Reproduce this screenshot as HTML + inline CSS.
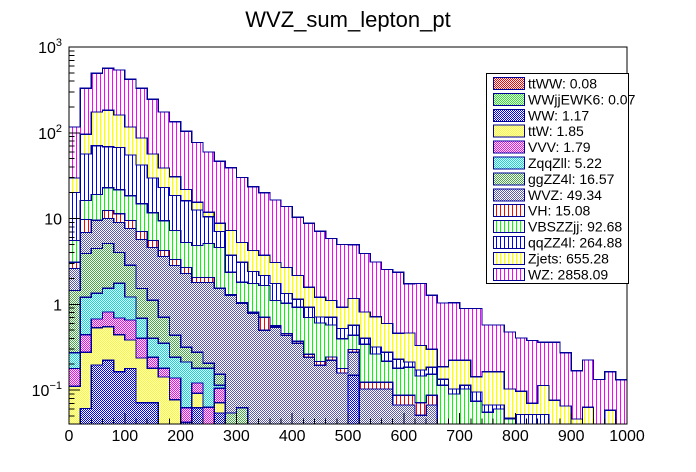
<!DOCTYPE html>
<html><head><meta charset="utf-8"><style>
html,body{margin:0;padding:0;background:#fff;}
svg{display:block;font-family:"Liberation Sans",Arial,sans-serif;}
</style></head><body>
<svg id="chart" width="696" height="472" viewBox="0 0 696 472">
<defs>
<pattern id="vh-magenta" width="4" height="4" patternUnits="userSpaceOnUse"><rect width="4" height="4" fill="#fff"/><rect width="1" height="4" fill="#ff00ff"/></pattern>
<pattern id="vh-yellow" width="4" height="4" patternUnits="userSpaceOnUse"><rect width="4" height="4" fill="#fff"/><rect width="1.3" height="4" fill="#ffff00"/></pattern>
<pattern id="vh-blue" width="4" height="4" patternUnits="userSpaceOnUse"><rect width="4" height="4" fill="#fff"/><rect width="1" height="4" fill="#0000ff"/></pattern>
<pattern id="vh-green" width="4" height="4" patternUnits="userSpaceOnUse"><rect width="4" height="4" fill="#fff"/><rect width="1" height="4" fill="#00ff00"/></pattern>
<pattern id="vh-red" width="4" height="4" patternUnits="userSpaceOnUse"><rect width="4" height="4" fill="#fff"/><rect width="1" height="4" fill="#ff0000"/></pattern>
<pattern id="ck-wvz" width="2" height="2" patternUnits="userSpaceOnUse"><rect width="2" height="2" fill="#fff"/><rect width="1" height="1" fill="#5a5ab4"/><rect x="1" y="1" width="1" height="1" fill="#5a5ab4"/></pattern>
<pattern id="ck-gg" width="2" height="2" patternUnits="userSpaceOnUse"><rect width="2" height="2" fill="#fff"/><rect width="1" height="1" fill="#44aa44"/><rect x="1" y="1" width="1" height="1" fill="#44aa44"/></pattern>
<pattern id="ck-cyan" width="2" height="2" patternUnits="userSpaceOnUse"><rect width="2" height="2" fill="#fff"/><rect width="1" height="1" fill="#00e0e0"/><rect x="1" y="1" width="1" height="1" fill="#00e0e0"/></pattern>
<pattern id="ck-magenta" width="2" height="2" patternUnits="userSpaceOnUse"><rect width="2" height="2" fill="#fff"/><rect width="1" height="1" fill="#ff00ff"/><rect x="1" y="1" width="1" height="1" fill="#ff00ff"/></pattern>
<pattern id="ck-yellow" width="2" height="2" patternUnits="userSpaceOnUse"><rect width="2" height="2" fill="#fff"/><rect width="1" height="1" fill="#ffff00"/><rect x="1" y="1" width="1" height="1" fill="#ffff00"/></pattern>
<pattern id="ck-blue" width="2" height="2" patternUnits="userSpaceOnUse"><rect width="2" height="2" fill="#fff"/><rect width="1" height="1" fill="#0000ff"/><rect x="1" y="1" width="1" height="1" fill="#0000ff"/></pattern>
<pattern id="ck-green" width="2" height="2" patternUnits="userSpaceOnUse"><rect width="2" height="2" fill="#fff"/><rect width="1" height="1" fill="#22ee22"/><rect x="1" y="1" width="1" height="1" fill="#22ee22"/></pattern>
<pattern id="ck-red" width="2" height="2" patternUnits="userSpaceOnUse"><rect width="2" height="2" fill="#fff"/><rect width="1" height="1" fill="#ff0000"/><rect x="1" y="1" width="1" height="1" fill="#ff0000"/></pattern>
</defs>
<text x="348" y="27" font-size="22" text-anchor="middle" fill="#000">WVZ_sum_lepton_pt</text>
<g id="stack"></g>
<g id="axes"></g>
<g id="legend"></g>
</svg>
<script>
const binEdgesMin = 0, binEdgesMax = 1000;
const xTickLabels = ["0","100","200","300","400","500","600","700","800","900","1000"];
const xTickValues = [0,100,200,300,400,500,600,700,800,900,1000];
const yDecades = [-1,0,1,2,3];
const seriesNames = ["ttWW","WWjjEWK6","WW","ttW","VVV","ZqqZll","ggZZ4l","WVZ","VH","VBSZZjj","qqZZ4l","Zjets","WZ"];
const legendTotals = ["0.08","0.07","1.17","1.85","1.79","5.22","16.57","49.34","15.08","92.68","264.88","655.28","2858.09"];
const ttWW = [0.003,0.003,0.003,0.003,0.003,0.003,0,0,0,0,0,0,0,0,0,0,0,0,0,0,0,0,0,0,0,0,0,0,0,0,0,0,0,0,0,0,0,0,0,0,0,0,0,0,0,0,0,0,0,0];
const WWjjEWK6 = [0,0.003,0.003,0.003,0.003,0,0,0,0,0,0,0,0,0,0,0,0,0,0,0,0,0,0,0,0,0,0,0,0,0,0,0,0,0,0,0,0,0,0,0,0,0,0,0,0,0,0,0,0,0];
const WW = [0,0.055,0.19,0.217,0.158,0.175,0.071,0.071,0,0,0.042,0.062,0,0.054,0,0,0,0,0,0,0,0,0,0,0,0.149,0,0,0,0,0,0,0,0,0,0,0,0,0,0,0,0,0,0,0,0,0,0,0,0];
const ttW = [0.108,0.214,0.336,0.323,0.278,0.206,0.165,0.109,0.142,0.077,0,0.03,0,0.017,0,0,0,0,0,0,0,0,0,0,0,0,0,0,0,0,0,0,0,0,0,0,0,0,0,0,0,0,0,0,0,0,0,0,0,0];
const VVV = [0.067,0.167,0.143,0.267,0.251,0.271,0.166,0.062,0.038,0.061,0.02,0.029,0.063,0.034,0,0,0,0,0,0,0,0,0,0,0,0,0,0,0,0,0,0,0,0,0,0,0,0,0,0,0,0,0,0,0,0,0,0,0,0];
const ZqqZll = [0.094,0.77,0.67,0.72,1.06,0.56,0.285,0.16,0.17,0.104,0.15,0.059,0.117,0.009,0,0,0,0,0,0,0,0,0,0,0,0,0,0,0,0,0,0,0,0,0,0,0,0,0,0,0,0,0,0,0,0,0,0,0,0];
const ggZZ4l = [1.18,2.71,3.14,3.59,2.27,1.63,0.84,0.71,0.354,0.194,0.104,0.097,0.026,0.039,0.054,0.062,0,0,0,0,0,0,0,0,0,0,0,0,0,0,0,0,0,0,0,0,0,0,0,0,0,0,0,0,0,0,0,0,0,0];
const WVZ = [1.17,2.95,5.0,4.88,4.96,4.81,4.17,3.49,2.9,2.4,1.97,1.52,1.59,1.38,1.22,0.97,0.786,0.499,0.54,0.436,0.352,0.242,0.195,0.223,0.158,0.128,0.103,0.103,0.103,0.067,0.067,0.051,0.067,0,0,0,0,0,0,0,0,0,0,0,0,0,0,0,0,0];
const VH = [0.46,2.86,0.05,2.4,2.4,1.83,1.36,0.95,0.64,0.5,0.4,0.26,0.26,0.02,0.02,0.02,0.02,0.21,0.02,0.02,0.02,0.02,0.02,0.02,0.02,0.02,0.02,0.02,0.02,0.02,0.02,0.02,0.02,0.005,0.005,0.005,0.005,0.005,0.005,0.005,0.005,0.005,0.005,0.005,0.005,0.005,0.005,0.005,0.005,0.005];
const VBSZZjj = [2.47,6.5,9.5,10.5,10.3,9.0,7.8,6.15,5.2,3.9,2.57,2.79,3.06,3.05,1.07,0.75,0.94,0.95,0.55,0.57,0.55,0.44,0.39,0.33,0.22,0.14,0.22,0.14,0.094,0.093,0.098,0.075,0.066,0.109,0.085,0.098,0.069,0.05,0.055,0.041,0,0,0,0,0,0,0,0,0,0];
const qqZZ4l = [14.6,40.3,51.6,45.8,45.8,36.6,27.2,18,13.6,11.3,10.9,7.75,5.4,2.46,1.36,1.28,0.67,0.51,0.64,0.31,0.22,0.22,0.105,0.136,0.124,0.134,0.059,0.054,0.06,0.049,0.027,0.025,0.032,0.02,0.013,0.011,0.021,0.012,0.007,0.001,0.047,0.047,0.047,0,0,0,0,0,0,0];
const Zjets = [9.5,40,104,115,94,62,44.7,26.8,15.8,12.3,5.7,2.9,1.3,1.74,3.53,2.18,1.83,1.55,1.33,1.35,1.03,0.66,0.5,0.4,0.4,0.6,0.41,0.4,0.32,0.23,0.25,0.16,0.115,0.053,0.12,0.109,0.048,0.096,0.096,0.056,0.045,0.018,0.061,0.071,0.06,0.041,0.058,0,0.053,0];
const WZ = [87,234,319,381,378,304,244,190,136,104,82,61.5,47.8,37.6,32,24.9,19.3,16.2,13.4,11.1,8.2,7.2,5.9,4.74,4.07,3.78,3.11,2.39,1.95,1.91,1.28,1.42,0.97,0.85,0.82,0.67,0.75,0.41,0.41,0.373,0.307,0.309,0.247,0.284,0.207,0.122,0.161,0.128,0.106,0.127];

const seriesData = [ttWW,WWjjEWK6,WW,ttW,VVV,ZqqZll,ggZZ4l,WVZ,VH,VBSZZjj,qqZZ4l,Zjets,WZ];
const fills = ["url(#ck-red)","url(#ck-green)","url(#ck-blue)","url(#ck-yellow)","url(#ck-magenta)","url(#ck-cyan)","url(#ck-gg)","url(#ck-wvz)","url(#vh-red)","url(#vh-green)","url(#vh-blue)","url(#vh-yellow)","url(#vh-magenta)"];
const NS = "http://www.w3.org/2000/svg";
const X0 = 69, X1 = 627, Y0 = 47, Y1 = 424;
const logMax = 3, logMin = 3 - (Y1 - Y0) / 85.75;
function xs(v){ return X0 + (v - binEdgesMin) / (binEdgesMax - binEdgesMin) * (X1 - X0); }
function ys(v){
  if (!(v > 0)) return Y1;
  const l = Math.log10(v);
  if (l <= logMin) return Y1;
  if (l >= logMax) return Y0;
  return Y0 + (logMax - l) / (logMax - logMin) * (Y1 - Y0);
}
function mk(tag, attrs, parent){
  const e = document.createElementNS(NS, tag);
  for (const k in attrs) e.setAttribute(k, attrs[k]);
  parent.appendChild(e);
  return e;
}
const nb = WZ.length;
const bw = (binEdgesMax - binEdgesMin) / nb;
const cum = [];
let run = new Array(nb).fill(0);
for (let s = 0; s < seriesData.length; s++){
  run = run.map((v,i)=>v + seriesData[s][i]);
  cum.push(run.slice());
}
const stack = document.getElementById('stack');
for (let s = seriesData.length - 1; s >= 0; s--){
  let d = "M" + xs(binEdgesMin) + "," + Y1;
  for (let i = 0; i < nb; i++){
    const y = ys(cum[s][i]).toFixed(1);
    d += " L" + xs(binEdgesMin + i*bw).toFixed(1) + "," + y + " L" + xs(binEdgesMin + (i+1)*bw).toFixed(1) + "," + y;
  }
  d += " L" + xs(binEdgesMax) + "," + Y1 + " Z";
  const p = mk('path', {d:d, fill:fills[s], stroke:"#000099", "stroke-width":"1.3", "shape-rendering":"crispEdges"}, stack);
  
  
}
const axes = document.getElementById('axes');
const frame = mk('rect', {x:X0, y:Y0, width:X1-X0, height:Y1-Y0, fill:"none", stroke:"#000", "stroke-width":"1", "shape-rendering":"crispEdges"}, axes);


for (let v = binEdgesMin; v <= binEdgesMax; v += 20){
  const major = (v % 100 === 0);
  const x = xs(v);
  const t = mk('line', {x1:x, x2:x, y1:Y1, y2:Y1 - (major ? 11 : 5.5), stroke:"#000", "stroke-width":"1", "shape-rendering":"crispEdges"}, axes);
  
  
}
for (let i = 0; i < xTickValues.length; i++){
  const t = mk('text', {x:xs(xTickValues[i]), y:441, "font-size":"16", "text-anchor":"middle", fill:"#000"}, axes);
  t.textContent = xTickLabels[i];
  
  
}
for (let dec = -2; dec <= 2; dec++){
  for (let m = 1; m <= 9; m++){
    const v = m * Math.pow(10, dec);
    const l = Math.log10(v);
    if (l < logMin || l > logMax) continue;
    const y = ys(v);
    const t = mk('line', {x1:X0, x2:X0 + (m === 1 ? 11 : 5.5), y1:y, y2:y, stroke:"#000", "stroke-width":"1", "shape-rendering":"crispEdges"}, axes);
    
    
  }
}
for (const dec of yDecades){
  const y = ys(Math.pow(10, dec));
  const t = mk('text', {x:62, y:y + 6, "font-size":"16", "text-anchor":"end", fill:"#000"}, axes);
  if (dec === 0) t.textContent = "1";
  else if (dec === 1) t.textContent = "10";
  else {
    const base = document.createElementNS(NS, 'tspan'); base.textContent = "10"; t.appendChild(base);
    const sup = document.createElementNS(NS, 'tspan');
    sup.setAttribute('dy', '-7'); sup.setAttribute('font-size', '11');
    sup.textContent = (dec < 0 ? "\u2212" : "") + Math.abs(dec);
    t.appendChild(sup);
  }
  
  
}
const lg = document.getElementById('legend');
const box = mk('rect', {x:486.5, y:73.5, width:142, height:210, fill:"#fff", stroke:"#000", "stroke-width":"1", "shape-rendering":"crispEdges"}, lg);


for (let k = 0; k < seriesNames.length; k++){
  const cy = 83.5 + k * 15.9;
  const sw = mk('rect', {x:493.5, y:cy - 6, width:31, height:12, fill:fills[k], stroke:"#000099", "stroke-width":"1", "shape-rendering":"crispEdges"}, lg);
  
  
  const tx = mk('text', {x:528, y:cy + 5, "font-size":"14", fill:"#000"}, lg);
  tx.textContent = seriesNames[k] + ": " + legendTotals[k];
  
  
}
</script>
</body></html>
